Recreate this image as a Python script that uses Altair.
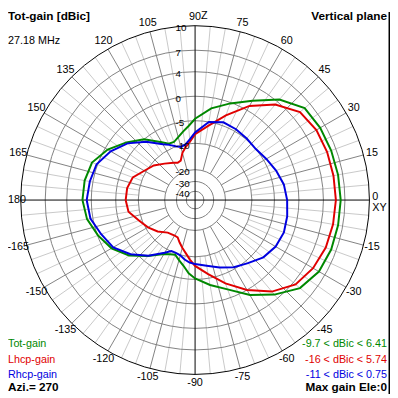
import altair as alt
import pandas as pd

# ---------------- data ----------------
angles = [-180, -170, -160, -150, -140, -130, -120, -115, -110, -105, -100, -95, -90,
          -80, -70, -60, -50, -40, -30, -20, -10, 0, 10, 20, 30, 40, 50, 60, 70, 80,
          90, 95, 100, 105, 110, 115, 120, 130, 140, 150, 160, 170, 180]

tot_gain = [1.44, 0.96, -0.1, -1.5, -3.6, -6.4, -8.8, -9.35, -9.7, -8.8, -7.8, -6.3, -5.2,
            -3.6, -1.8, 0.96, 3.2, 5.2, 6.05, 6.3, 6.35, 6.41, 6.35, 6.3, 6.25, 6.05, 4.4, 1.76, -0.2, -2.2,
            -4.6, -6.1, -7.2, -8.15, -8.9, -8.8, -7.8, -5.0, -2.9, -0.6, 0.96, 1.36, 1.44]

lhcp_gain = [-7.2, -7.6, -9.35, -10.9, -13.0, -15.4, -16.0, -15.9, -14.4, -12.8, -11.1, -9.35, -8.0,
             -5.9, -3.1, 0.0, 2.56, 4.4, 5.1, 5.5, 5.64, 5.74, 5.7, 5.7, 5.64, 5.2, 3.4, 0.8, -2.8, -5.9,
             -8.0, -9.6, -11.1, -13.0, -15.6, -15.9, -15.2, -13.5, -11.1, -9.6, -7.9, -7.3, -7.2]

rhcp_gain = [0.75, 0.4, -0.8, -1.9, -4.0, -6.5, -9.1, -10.25, -10.2, -9.9, -9.2, -8.7, -8.4,
             -7.8, -6.7, -5.4, -4.4, -3.0, -2.2, -1.9, -2.1, -2.4, -2.8, -3.6, -4.4, -5.0, -4.8, -4.5, -4.3, -5.0,
             -7.6, -9.1, -10.2, -10.7, -9.9, -9.1, -8.3, -5.7, -3.2, -1.3, 0.16, 0.5, 0.75]

series_names = ["Tot-gain", "Lhcp-gain", "Rhcp-gain"]
series_colors = ["#008800", "#e00000", "#0000e0"]
range_texts = ["-9.7 < dBic < 6.41", "-16 < dBic < 5.74", "-11 < dBic < 0.75"]

ring_db = [10, 7, 4, 0, -5, -10, -20, -30, -40]
ring_labels = ["10", "7", "4", "0", "-5", "-10", "-20", "-30", "-40"]
ring_radius = [178, 153, 131, 106, 81, 58, 31, 19, 9]   # radial scale of the plot (px)

angle_ticks = [a for a in range(-165, 180, 15) if a != 0]
angle_tick_labels = [str(a) for a in angle_ticks]

title_text = "Tot-gain [dBic]"
freq_text = "27.18 MHz"
plane_text = "Vertical plane"
azi_text = "Azi.= 270"
maxgain_text = "Max gain Ele:0"

# ---------------- layout ----------------
CX, CY = 199, 200
LABEL_R = 187
FONT = "Liberation Sans"

pts = sorted(zip(ring_db, ring_radius))


def r_expr(f):
    segs = list(zip(pts[:-1], pts[1:]))
    (d0, r0), (d1, r1) = segs[-1]
    expr = f"{r0} + ({f} - ({d0})) * {(r1 - r0) / (d1 - d0)}"
    for (d0, r0), (d1, r1) in reversed(segs[:-1]):
        expr = f"({f} < {d1}) ? ({r0} + ({f} - ({d0})) * {(r1 - r0) / (d1 - d0)}) : ({expr})"
    return f"max(0, {expr})"


xs = alt.Scale(domain=[8, 398], nice=False, zero=False)
ys = alt.Scale(domain=[8, 398], nice=False, zero=False, reverse=True)


def X(f):
    return alt.X(f, type="quantitative", scale=xs, axis=None)


def Y(f):
    return alt.Y(f, type="quantitative", scale=ys, axis=None)


RAD = "PI/180"

# spokes
spoke_angles = [a for a in range(-180, 180, 5) if a % 90 != 0]
df_spokes = pd.DataFrame({"angle": spoke_angles})


def spokes(major):
    cond = "datum.angle % 15 == 0" if major else "datum.angle % 15 != 0"
    inner = -20 if major else -10
    return (
        alt.Chart(df_spokes)
        .transform_filter(cond)
        .transform_calculate(
            r0=r_expr(str(inner)), r1=r_expr("10"))
        .transform_calculate(
            x=f"{CX} + datum.r0*cos(datum.angle*{RAD})",
            y=f"{CY} - datum.r0*sin(datum.angle*{RAD})",
            x2=f"{CX} + datum.r1*cos(datum.angle*{RAD})",
            y2=f"{CY} - datum.r1*sin(datum.angle*{RAD})",
        )
        .mark_rule(color="#808080" if major else "#c8c8c8", strokeWidth=1)
        .encode(x=X("x"), y=Y("y"), x2="x2:Q", y2="y2:Q")
    )


df_rings = pd.DataFrame({"db": ring_db, "label": ring_labels})
rings = (
    alt.Chart(df_rings)
    .transform_calculate(r=r_expr("datum.db"))
    .transform_calculate(cx=str(CX), cy=str(CY), sz="4*datum.r*datum.r",
                         col="datum.db == 10 ? 'black' : '#808080'")
    .mark_point(shape="circle", filled=False, strokeWidth=1, opacity=1)
    .encode(x=X("cx"), y=Y("cy"),
            size=alt.Size("sz:Q", scale=None, legend=None),
            color=alt.Color("col:N", scale=None, legend=None))
)

df_axes = pd.DataFrame({"a0": [180, -90], "a1": [0, 90]})
axes = (
    alt.Chart(df_axes)
    .transform_calculate(r=r_expr("10"))
    .transform_calculate(
        x=f"{CX} + datum.r*cos(datum.a0*{RAD})", y=f"{CY} - datum.r*sin(datum.a0*{RAD})",
        x2=f"{CX} + datum.r*cos(datum.a1*{RAD})", y2=f"{CY} - datum.r*sin(datum.a1*{RAD})")
    .mark_rule(color="black", strokeWidth=1)
    .encode(x=X("x"), y=Y("y"), x2="x2:Q", y2="y2:Q")
)

rows = []
for name, vals in zip(series_names, [tot_gain, lhcp_gain, rhcp_gain]):
    for i, (a, v) in enumerate(zip(angles, vals)):
        rows.append({"series": name, "angle": a, "db": v, "idx": i})
df_tr = pd.DataFrame(rows)

traces = (
    alt.Chart(df_tr)
    .transform_calculate(r=r_expr("datum.db"))
    .transform_calculate(x=f"{CX} + datum.r*cos(datum.angle*{RAD})",
                         y=f"{CY} - datum.r*sin(datum.angle*{RAD})")
    .mark_line(strokeWidth=2)
    .encode(x=X("x"), y=Y("y"),
            color=alt.Color("series:N", scale=alt.Scale(domain=series_names, range=series_colors), legend=None),
            detail="series:N",
            order=alt.Order("idx:Q"))
)

ring_text = (
    alt.Chart(df_rings)
    .transform_calculate(r=r_expr("datum.db"))
    .transform_calculate(x="179", y=f"{CY} - datum.r + 2.5")
    .mark_text(align="left", baseline="middle", font=FONT, fontSize=10, color="black")
    .encode(x=X("x"), y=Y("y"), text="label:N")
)

df_ang = pd.DataFrame({"angle": angle_ticks, "label": angle_tick_labels})
ang_text = (
    alt.Chart(df_ang)
    .transform_calculate(x=f"{CX} + {LABEL_R}*cos(datum.angle*{RAD})",
                         y=f"{CY} - {LABEL_R}*sin(datum.angle*{RAD})")
    .mark_text(align="center", baseline="middle", font=FONT, fontSize=11, color="black")
    .encode(x=X("x"), y=Y("y"), text="label:N")
)


def texts(items, align, bold, size=None):
    df = pd.DataFrame(items, columns=["x", "y", "t", "c"])
    return (
        alt.Chart(df)
        .mark_text(align=align, baseline="middle", font=FONT,
                   fontSize=size if size else (12 if bold else 11),
                   fontWeight="bold" if bold else "normal")
        .encode(x=X("x"), y=Y("y"), text="t:N",
                color=alt.Color("c:N", scale=None, legend=None))
    )


left_bold = texts([(8, 12.5, title_text, "black"), (8, 391, azi_text, "black")], "left", True)
left_reg = texts([(8, 37.5, freq_text, "black"),
                  (8, 347.5, series_names[0], series_colors[0]),
                  (8, 363, series_names[1], series_colors[1]),
                  (8, 378.5, series_names[2], series_colors[2]),
                  (8, 200.5, "180", "black"),
                  (380, 196.5, "0", "black"),
                  (380, 208.5, "XY", "black"),
                  (205, 12.5, "Z", "black")], "left", False)
right_bold = texts([(395, 12.5, plane_text, "black"), (395, 391, maxgain_text, "black")], "right", True)
right_reg = texts([(395, 347.5, range_texts[0], series_colors[0]),
                   (395, 363, range_texts[1], series_colors[1]),
                   (395, 378.5, range_texts[2], series_colors[2])], "right", False)

edge = (
    alt.Chart(pd.DataFrame({"x": [397.5]}))
    .mark_rule(color="black", strokeWidth=2)
    .encode(x=X("x"))
)

chart = (
    alt.layer(spokes(False), spokes(True), rings, axes, traces, ring_text, ang_text,
              left_bold, left_reg, right_bold, right_reg, edge)
    .properties(width=390, height=390, padding=0, autosize=alt.AutoSizeParams(type="none"))
    .configure_view(stroke=None)
)

chart.save("out.html", embed_options={"renderer": "svg", "actions": False})
